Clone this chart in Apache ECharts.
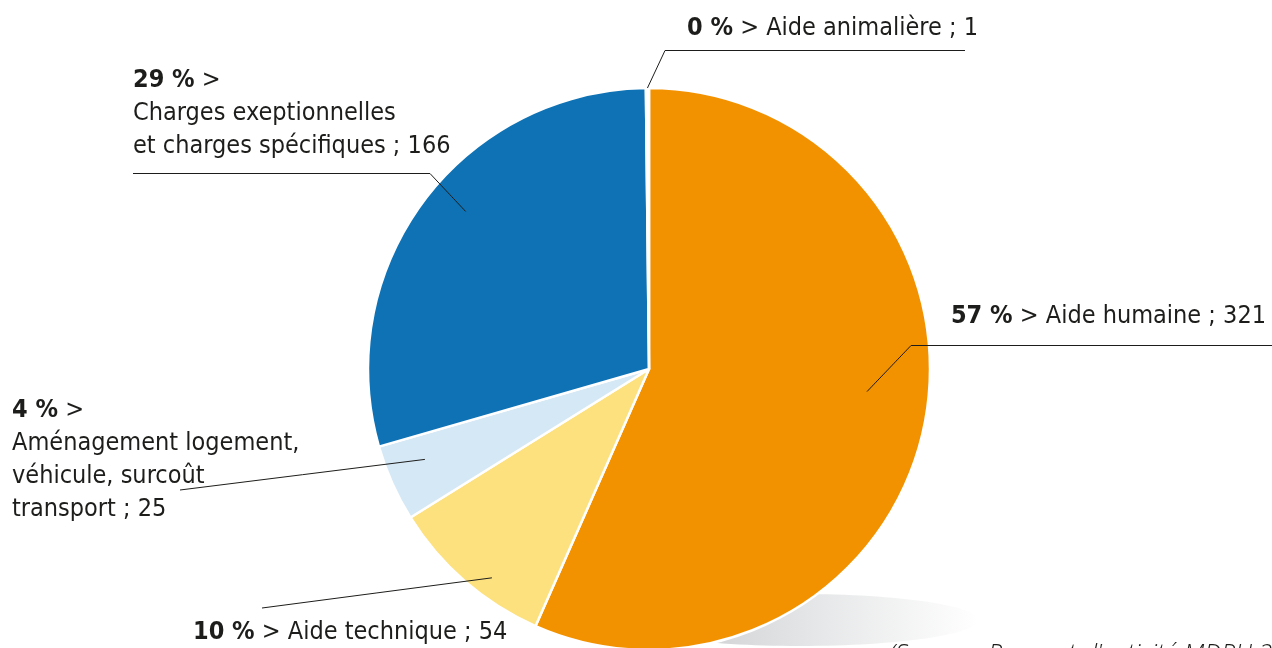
<!DOCTYPE html>
<html lang="fr">
<head>
<meta charset="utf-8">
<title>PCH – répartition des montants</title>
<script src="https://cdn.jsdelivr.net/npm/echarts@6/dist/echarts.min.js"></script>
<style>
  html, body { margin: 0; padding: 0; background: #fff; }
  #chart { width: 1272px; height: 648px; }
</style>
</head>
<body>
<div id="chart"></div>
<script>
const categories = [
  'Aide humaine',
  'Aide technique',
  'Aménagement logement,\nvéhicule, surcoût\ntransport',
  'Charges exeptionnelles\net charges spécifiques',
  'Aide animalière'
]
const values = [321, 54, 25, 166, 1]
const breakAfterPct = [false, false, true, true, false]
const sourceText = "(Source : Rapport d'activité MDPH 2019)"

const colors = ['#f39200', '#fce17e', '#d5e8f6', '#0e72b5', '#ffffff']
const CX = 649
const CY = 369
const RADIUS = 281
const FONT = '"DejaVu Sans Condensed", "DejaVu Sans", sans-serif'

// where each label sits, where its line bends/ends, and where the line starts in the slice
// (depth = fraction of the radius, shift = degrees off the slice's middle)
const labelPos = [
  { x: 1266, y: 300, align: 'right', elbow: [911, 345.5], end: [1272, 345.5], depth: 0.78, shift: 6 },
  { x: 193, y: 616, align: 'left', elbow: null, end: [262, 608], depth: 0.93, shift: 4 },
  { x: 12, y: 394, align: 'left', elbow: null, end: [180, 490], depth: 0.86, shift: -2 },
  { x: 133, y: 64, align: 'left', elbow: [430, 173.5], end: [133, 173.5], depth: 0.86, shift: -4 },
  { x: 687, y: 12, align: 'left', elbow: [665, 50.5], end: [965, 50.5], depth: 1.0, shift: 0 }
]

const total = values.reduce((a, b) => a + b, 0)

// point inside slice idx, same angles as the pie (start at 12 o'clock, clockwise)
const slicePoint = (idx, depth, shift) => {
  let before = 0
  for (let i = 0; i < idx; i++) before += values[i]
  const mid = (90 - ((before + values[idx] / 2) / total) * 360 + shift) * Math.PI / 180
  return [CX + RADIUS * depth * Math.cos(mid), CY - RADIUS * depth * Math.sin(mid)]
}

const pieData = categories.map((name, i) => ({
  name,
  value: values[i],
  itemStyle: { color: colors[i] }
}))

// same slices again, invisible, only to carry labels + lines above the coloured pie
const labelData = categories.map((name, i) => ({ name, value: values[i] }))

const chart = echarts.init(document.getElementById('chart'))

chart.setOption({
  animation: false,
  graphic: [
    {
      type: 'ellipse',
      z: 0,
      shape: { cx: 800, cy: 620, rx: 178, ry: 26 },
      style: {
        fill: new echarts.graphic.LinearGradient(0, 0, 1, 0, [
          { offset: 0, color: '#c4c5c7' },
          { offset: 0.55, color: '#e6e7e8' },
          { offset: 1, color: '#ffffff' }
        ])
      }
    },
    {
      type: 'text',
      left: 889,
      top: 642,
      z: 5,
      style: {
        text: sourceText,
        fill: '#1d1d1b',
        font: 'italic 300 25px "Open Sans", "Liberation Sans", sans-serif'
      }
    }
  ],
  series: [
    {
      type: 'pie',
      center: [CX, CY],
      radius: RADIUS,
      startAngle: 90,
      clockwise: true,
      z: 2,
      silent: true,
      emphasis: { disabled: true },
      itemStyle: { borderColor: '#ffffff', borderWidth: 2.5 },
      label: { show: false },
      labelLine: { show: false },
      data: pieData
    },
    {
      type: 'pie',
      center: [CX, CY],
      radius: RADIUS,
      startAngle: 90,
      clockwise: true,
      avoidLabelOverlap: false,
      z: 3,
      silent: true,
      emphasis: { disabled: true },
      itemStyle: { color: 'rgba(0,0,0,0)', borderWidth: 0 },
      label: {
        show: true,
        position: 'outside',
        color: '#1d1d1b',
        fontFamily: FONT,
        fontSize: 25,
        lineHeight: 33,
        formatter: (p) => {
          const pct = Math.round((p.value / total) * 100)
          const sep = breakAfterPct[p.dataIndex] ? '\n' : ' '
          return '{b|' + pct + ' %} >' + sep + p.name + ' ; ' + p.value
        },
        rich: {
          b: {
            fontFamily: FONT,
            fontWeight: 'bold',
            fontSize: 25,
            lineHeight: 33,
            color: '#1d1d1b'
          }
        }
      },
      labelLine: {
        show: true,
        lineStyle: { color: '#1d1d1b', width: 1 }
      },
      labelLayout: (p) => {
        const L = labelPos[p.dataIndex]
        const start = slicePoint(p.dataIndex, L.depth, L.shift)
        const elbow = L.elbow || [(start[0] + L.end[0]) / 2, (start[1] + L.end[1]) / 2]
        return {
          x: L.x,
          y: L.y,
          align: L.align,
          verticalAlign: 'top',
          labelLinePoints: [start, elbow, L.end]
        }
      },
      data: labelData
    }
  ]
})

window.addEventListener('resize', () => chart.resize())
</script>
</body>
</html>
